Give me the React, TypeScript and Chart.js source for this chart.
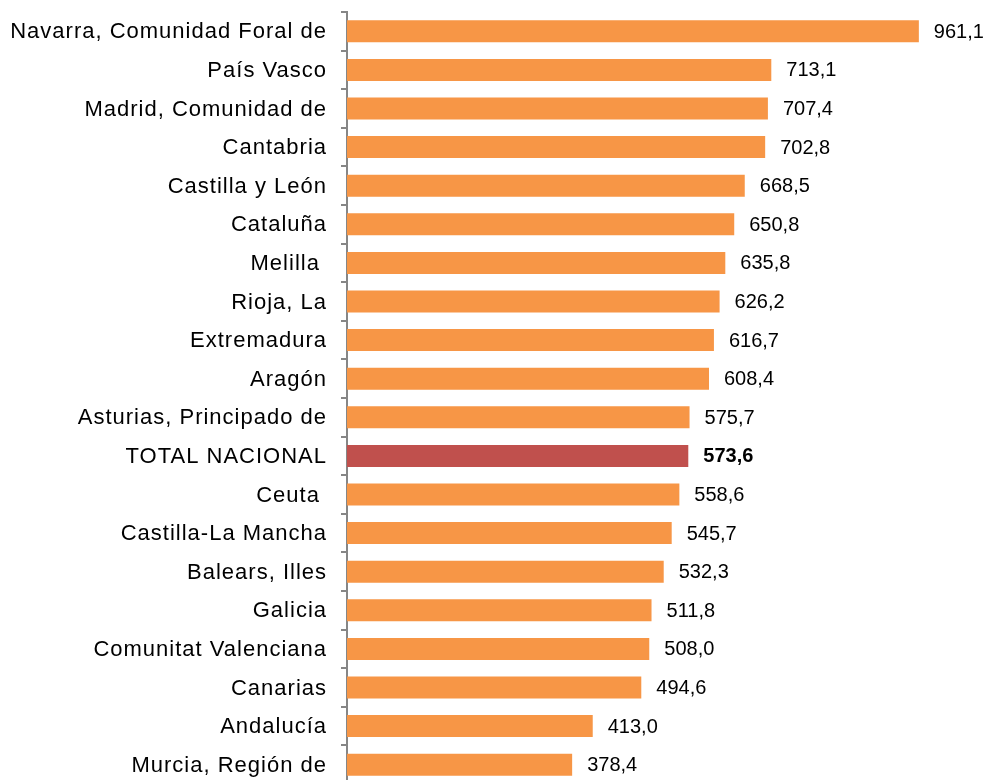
import React, { useEffect, useRef } from "react";
import { Chart, registerables } from "chart.js";

Chart.register(...registerables);

const categories = [
  "Navarra, Comunidad Foral de",
  "País Vasco",
  "Madrid, Comunidad de",
  "Cantabria",
  "Castilla y León",
  "Cataluña",
  "Melilla ",
  "Rioja, La",
  "Extremadura",
  "Aragón",
  "Asturias, Principado de",
  "TOTAL NACIONAL",
  "Ceuta ",
  "Castilla-La Mancha",
  "Balears, Illes",
  "Galicia",
  "Comunitat Valenciana",
  "Canarias",
  "Andalucía",
  "Murcia, Región de",
];

const values = [
  961.1, 713.1, 707.4, 702.8, 668.5, 650.8, 635.8, 626.2, 616.7, 608.4,
  575.7, 573.6, 558.6, 545.7, 532.3, 511.8, 508.0, 494.6, 413.0, 378.4,
];

const highlightLabel = "TOTAL NACIONAL";

const ORANGE = "#F79646";
const RED = "#C0504D";
const AXIS = "#868686";
const FONT = "'Liberation Sans', Arial, sans-serif";

const fmt = (v: number) => v.toFixed(1).replace(".", ",");

const valueLabels = {
  id: "valueLabels",
  beforeDraw(chart: any) {
    (chart.ctx as any).letterSpacing = "1px";
  },
  afterDatasetsDraw(chart: any) {
    const ctx = chart.ctx;
    const meta = chart.getDatasetMeta(0);
    ctx.save();
    (ctx as any).letterSpacing = "0px";
    ctx.fillStyle = "#000";
    ctx.textAlign = "left";
    ctx.textBaseline = "middle";
    meta.data.forEach((bar: any, i: number) => {
      const bold = categories[i] === highlightLabel;
      ctx.font = `${bold ? "bold " : ""}20px ${FONT}`;
      ctx.fillText(fmt(values[i]), bar.x + 15, bar.y + 1);
    });
    ctx.restore();
  },
  afterDraw(chart: any) {
    (chart.ctx as any).letterSpacing = "0px";
  },
};

export default function App() {
  const ref = useRef<HTMLCanvasElement>(null);
  useEffect(() => {
    if (!ref.current) return;
    const chart = new Chart(ref.current, {
      type: "bar",
      data: {
        labels: categories,
        datasets: [
          {
            data: values,
            backgroundColor: categories.map((c) => (c === highlightLabel ? RED : ORANGE)),
            borderWidth: 0,
            barPercentage: 0.57,
            categoryPercentage: 1,
          },
        ],
      },
      options: {
        indexAxis: "y",
        responsive: false,
        animation: false,
        devicePixelRatio: 1,
        layout: { padding: { left: 0, top: 12, right: 47, bottom: 16 } },
        plugins: {
          legend: { display: false },
          tooltip: { enabled: false },
          title: { display: false },
        },
        scales: {
          x: {
            display: false,
            min: 0,
            max: 1000,
          },
          y: {
            position: "left",
            afterFit: (scale: any) => {
              scale.width = 347;
              scale.paddingTop = 0;
              scale.paddingBottom = 0;
            },
            grid: {
              offset: true,
              drawOnChartArea: false,
              drawTicks: true,
              tickLength: 6,
              color: AXIS,
              lineWidth: 2,
            },
            border: { display: true, color: AXIS, width: 2 },
            ticks: {
              autoSkip: false,
              color: "#000",
              padding: 14,
              labelOffset: 1,
              font: { family: FONT, size: 22 },
            },
          },
        },
      },
      plugins: [valueLabels],
    });
    return () => chart.destroy();
  }, []);
  return (
    <div
      style={{
        position: "fixed",
        left: 0,
        top: 0,
        width: 989,
        height: 780,
        overflow: "hidden",
        background: "#fff",
      }}
    >
      <canvas ref={ref} width={989} height={800} style={{ width: 989, height: 800, display: "block" }} />
    </div>
  );
}
